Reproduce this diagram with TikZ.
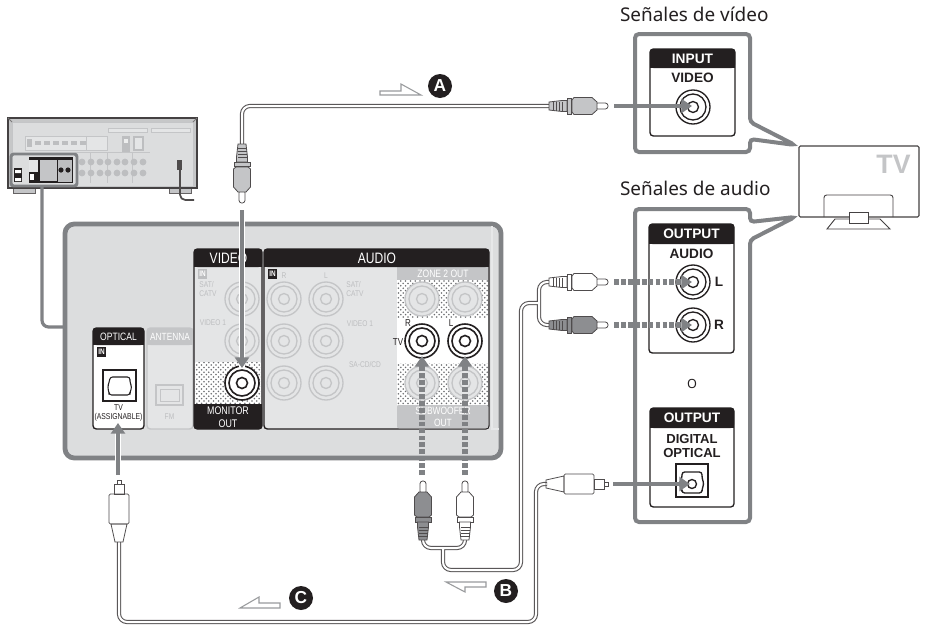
\documentclass[tikz,border=0pt]{standalone}
\usepackage{fontspec}
\setmainfont{Liberation Sans}
\newfontfamily\narrowf[FakeStretch=0.8]{Liberation Sans}
\newfontfamily\titlef{Noto Sans}
\usetikzlibrary{arrows.meta,patterns}
\pgfdeclarepatternformonly{ditherdots}{\pgfqpoint{-0.9pt}{-0.9pt}}{\pgfqpoint{2.7pt}{2.7pt}}{\pgfqpoint{3.6pt}{3.6pt}}{%
  \pgfpathcircle{\pgfqpoint{0pt}{0pt}}{0.65pt}%
  \pgfpathcircle{\pgfqpoint{1.8pt}{1.8pt}}{0.65pt}%
  \pgfusepath{fill}}
\definecolor{ink}{HTML}{231F20}
\definecolor{midgray}{HTML}{808285}
\definecolor{panelbg}{HTML}{DCDDDE}
\definecolor{boxbg}{HTML}{E4E5E6}
\definecolor{faded}{HTML}{C4C5C7}
\definecolor{dimtext}{HTML}{BDBEC0}
\tikzset{
  x=0.75pt,y=-0.75pt,
  lbl/.style={inner sep=0pt,outer sep=0pt,align=center},
  hdr/.style={lbl,text=white,font=\narrowf\fontsize{11.3}{12}\selectfont},
  shdr/.style={lbl,text=white,font=\narrowf\fontsize{8}{9}\selectfont},
  tiny/.style={lbl,text=ink,font=\narrowf\fontsize{7.5}{8.2}\selectfont},
  dim/.style={lbl,text=dimtext,font=\narrowf\fontsize{6.2}{7.4}\selectfont},
  boldlbl/.style={lbl,text=ink,font=\bfseries\fontsize{10.2}{10.2}\selectfont},
  boldhdr/.style={lbl,text=white,font=\bfseries\fontsize{10.3}{11}\selectfont},
  title/.style={lbl,anchor=west,text=ink,font=\titlef\fontsize{14.2}{15}\selectfont},
  badge/.style={circle,fill=ink,text=white,minimum size=18pt,inner sep=0pt,font=\bfseries\fontsize{13}{13}\selectfont},
  blackbox/.style={draw=ink,line width=1pt,rounded corners=2.5pt},
  callout/.style={draw=midgray,line width=3pt,rounded corners=3pt,fill=white,line join=miter},
  cable/.style={draw=ink!75,line width=0.8pt,double=white,double distance=1.5pt,rounded corners=6pt},
  sig/.style={draw=midgray,line width=3.4pt,-{Triangle[length=8pt,width=10.5pt]}},
  halo/.style={preaction={draw=white,line width=3.9pt,-}},
  sigdash/.style={sig,line width=3.8pt,dash pattern=on 3.6pt off 1.6pt},
  hollow/.style={draw=midgray!80,line width=0.8pt,fill=white},
  dither/.style={pattern=ditherdots,pattern color=midgray!85!black},
}
\newcommand{\jackdraw}[5]{% x y colour width fill
  \draw[draw=#3,line width=#4,fill=#5] (#1,#2) circle[radius=17];
  \draw[draw=#3,line width=#4] (#1,#2) circle[radius=13];
  \draw[draw=#3,line width=#4] (#1,#2) circle[radius=5.5];
}
\newcommand{\rcaplug}[4]{% x y rotation fill
  \begin{scope}[shift={(#1,#2)},rotate=#3,draw=ink!80,line width=0.6pt]
    \draw[fill=white,rounded corners=2pt] (-13,-3) rectangle (0,3);
    \draw[fill=#4] (-36,-6) -- (-34,-8.5) -- (-16,-8.5) -- (-11,-4) -- (-11,4) -- (-16,8.5) -- (-34,8.5) -- (-36,6) -- cycle;
    \draw[fill=#4] (-41,-8) rectangle (-36.5,8);
    \draw[fill=#4] (-59,-4) -- (-46,-5.5) -- (-41,-5.5) -- (-41,5.5) -- (-46,5.5) -- (-59,4) -- cycle;
    \foreach \s in {-55,-52,-49,-46} \draw[line width=0.5pt] (\s,-4.5) -- (\s,4.5);
  \end{scope}
}
\newcommand{\optplug}[3]{% x y rotation
  \begin{scope}[shift={(#1,#2)},rotate=#3,draw=ink!80,line width=0.6pt,fill=white]
    \draw (-4,-2) rectangle (0,2);
    \draw (-14,-5) rectangle (-4,5);
    \draw (-62,-4) -- (-44,-8) -- (-44,8) -- (-62,4) -- cycle;
    \draw[rounded corners=1pt] (-44,-10) rectangle (-14,10);
  \end{scope}
}
\begin{document}
\begin{tikzpicture}
\useasboundingbox (0,0) rectangle (926,629);
\fill[white] (0,0) rectangle (926,629);

% ---------- small receiver ----------
\draw[fill=faded,draw=ink!70,line width=0.5pt] (13,186) rectangle (35,193);
\draw[fill=faded,draw=ink!70,line width=0.5pt] (169,186) rectangle (191,193);
\fill[panelbg!90!black] (8,118) rectangle (197,188);
\draw[faded,line width=0.6pt,fill=panelbg] (12,122) rectangle (193,186);
\draw[ink!85,line width=1.5pt] (8,188) -- (8,118) -- (197,118) -- (197,188) -- cycle;
\draw[ink!60,line width=0.6pt] (8,118) -- (12,122) (197,118) -- (193,122);
\draw[faded,fill=boxbg,line width=0.6pt] (25,136) rectangle (107,150);
\foreach \px in {38,47,56,65,74,83} \fill[dimtext] (\px-3,141) rectangle (\px+3,145);
\fill[dimtext] (27,139) rectangle (32,147);
\draw[faded,line width=0.6pt] (86,136) -- (86,150);
\draw[faded,fill=boxbg,line width=0.6pt] (108,128) rectangle (147,132);
\draw[faded,fill=boxbg,line width=0.6pt] (151,128) rectangle (190,132);
\fill[dimtext] (122,136) rectangle (130,152);
\fill[white!70!faded] (124,139) rectangle (128,143);
\draw[dimtext,fill=boxbg,line width=0.8pt] (134,137) rectangle (143,150);
\draw[faded,line width=0.6pt] (75,152) -- (150,152) (90,152) -- (90,183) (107,152) -- (107,183) (132,152) -- (132,183);
\foreach \px in {82,91,100,108,117,125,134,143}{
  \fill[dimtext] (\px,162) circle[radius=3.4];
  \fill[dimtext] (\px,173) circle[radius=3.4];
}
\fill[ink] (29,157) rectangle (73,183);
\fill[boxbg] (29,160) rectangle (38,172);
\fill[white] (30,174) rectangle (34,180);
\fill[faded] (40,160) rectangle (57,181);
\fill[dimtext] (58,160) rectangle (72,182);
\fill[ink] (61,170) circle[radius=2.6] (68,170) circle[radius=2.6];
\fill[ink] (14,168) rectangle (22,182);
\fill[white] (15,170) rectangle (21,173) (15,178) rectangle (21,181);
\draw[midgray,line width=2.2pt,rounded corners=2pt] (11,154) rectangle (77,186);
\fill[ink!80] (177,160) rectangle (182,170);
\draw[ink!80,line width=1.3pt,rounded corners=4pt] (180,168) -- (180,200) -- (194,200);

% ---------- connector from receiver to enlarged panel ----------
\coordinate (recv) at (42,186);
\coordinate (panelL) at (65,327);
\draw[midgray,line width=2.4pt,rounded corners=5pt] (recv) |- (panelL);

% ---------- panel ----------
\draw[midgray,line width=3.6pt,fill=panelbg,rounded corners=7pt] (65,224) rectangle (501,458);
\draw[white!60!faded,line width=0.8pt] (492,226) -- (492,429) -- (499,429);

% OPTICAL box
\draw[blackbox,fill=white] (93,328) rectangle (144,429);
\fill[ink,rounded corners=2.5pt] (93,328) rectangle (144,345);
\fill[ink] (93,338) rectangle (144,345);
\node[shdr] (optHead) at (118.5,336.5) {OPTICAL};
\fill[ink] (97,347) rectangle (106,357);
\node[lbl,text=white,font=\narrowf\bfseries\fontsize{6}{6}\selectfont] (inOpt) at (101.5,352) {IN};
\draw[ink,line width=1.3pt] (103,370) rectangle (136,401);
\draw[ink,line width=0.8pt,rounded corners=2pt] (110,377) -- (130,377) -- (130,383) -- (132,387) -- (130,392) -- (130,395) -- (109,395) -- (109,392) -- (107.5,387) -- (109,383) -- cycle;
\node[tiny,font=\narrowf\fontsize{6.4}{7.4}\selectfont] (optTV) at (118.5,413) {TV\\(ASSIGNABLE)};

% ANTENNA box
\draw[faded,line width=1pt,fill=boxbg,rounded corners=2.5pt] (147,328) rectangle (193,429);
\fill[faded,rounded corners=2.5pt] (147,328) rectangle (193,345);
\fill[faded] (147,338) rectangle (193,345);
\node[shdr,font=\narrowf\fontsize{7.8}{9}\selectfont] (antHead) at (170,336.5) {ANTENNA};
\draw[faded,line width=1.3pt] (156,385) rectangle (183,405);
\draw[faded,line width=0.6pt] (160,389) rectangle (179,401);
\node[dim] (fm) at (169.5,417) {FM};

% VIDEO box
\draw[blackbox,fill=boxbg] (194,249) rectangle (262,429);
\fill[white] (195,362) rectangle (261,404);
\fill[dither] (195,362) rectangle (261,404);
\fill[ink,rounded corners=2.5pt] (194,249) rectangle (262,267);
\fill[ink] (194,260) rectangle (262,267);
\fill[ink,rounded corners=2.5pt] (194,404) rectangle (262,429);
\fill[ink] (194,404) rectangle (262,414);
\node[hdr] (videoHead) at (228.5,258) {VIDEO};
\node[shdr,font=\narrowf\fontsize{8.3}{9.6}\selectfont] (monitor) at (228,417) {MONITOR\\OUT};
\fill[dimtext] (198,269) rectangle (207,279);
\node[lbl,text=white,font=\narrowf\bfseries\fontsize{6}{6}\selectfont] (inVideo) at (202.5,274) {IN};
\node[dim,align=left] (vSat) at (208,289) {SAT/\\CATV};
\node[dim] (vV1) at (213,323) {VIDEO 1};
\jackdraw{242}{299}{faded}{1pt}{boxbg}
\jackdraw{242}{341}{faded}{1pt}{boxbg}
\jackdraw{242}{383}{ink}{1.2pt}{white}

% AUDIO box
\draw[blackbox,fill=boxbg] (264,249) rectangle (489,429);
\fill[faded] (397,267) rectangle (488.3,280);
\fill[white] (397,280) rectangle (488.3,405);
\fill[dither] (397,280) rectangle (488.3,317);
\fill[dither] (397,363) rectangle (488.3,405);
\fill[faded,rounded corners=1.5pt] (397,405) rectangle (488.3,428.3);
\fill[ink,rounded corners=2.5pt] (264,249) rectangle (489,267);
\fill[ink] (264,260) rectangle (489,267);
\node[hdr] (audioHead) at (377,258) {AUDIO};
\node[lbl,text=white,font=\narrowf\fontsize{8}{8.5}\selectfont] (zone) at (443,274) {ZONE 2 OUT};
\node[lbl,text=white,font=\narrowf\fontsize{7.9}{9.2}\selectfont] (sub) at (443,417) {SUBWOOFER\\OUT};
\fill[ink] (268,269) rectangle (277,279);
\node[lbl,text=white,font=\narrowf\bfseries\fontsize{6}{6}\selectfont] (inAudio) at (272.5,274) {IN};
\node[dim] (aR) at (284,276) {R};
\node[dim] (aL) at (326,276) {L};
\node[dim,align=left] (aSat) at (355,289) {SAT/\\CATV};
\node[dim] (aV1) at (360,324) {VIDEO 1};
\node[dim] (aSa) at (365,365) {SA-CD/CD};
\foreach \jx in {284,326}\foreach \jy in {299,341,383}{\jackdraw{\jx}{\jy}{faded}{1pt}{boxbg}}
\foreach \jx in {422,465}\foreach \jy in {299,383}{\jackdraw{\jx}{\jy}{faded}{1pt}{boxbg}}
\jackdraw{422}{341}{ink}{1.2pt}{white}
\jackdraw{465}{341}{ink}{1.2pt}{white}
\node[tiny] (tvR) at (408,323) {R};
\node[tiny] (tvL) at (451,323) {L};
\node[tiny] (tvTV) at (398,342) {TV};

% ---------- TV ----------
\draw[ink!85,line width=0.8pt,rounded corners=1pt] (799,146) rectangle (919,217);
\node[lbl,text=faded,font=\bfseries\fontsize{20}{20}\selectfont] (tvMark) at (893.5,164) {TV};
\draw[ink!85,line width=0.7pt,rounded corners=2pt] (824,217) -- (824,195) -- (893,195) -- (893,217);
\draw[ink!85,line width=0.7pt,fill=white] (835,219) -- (880,219) -- (890,229) -- (827,229) -- cycle;
\draw[ink!85,line width=0.7pt,fill=white] (849,212) rectangle (868,223);

% ---------- callouts ----------
\draw[callout] (635,34) -- (750,34) -- (750,122) -- (795,145) -- (750,139) -- (750,152) -- (635,152) -- cycle;
\draw[callout] (635,209) -- (750,209) -- (750,222) -- (795,217) -- (750,240) -- (750,522) -- (635,522) -- cycle;
\node[title] (tVideo) at (620,14) {Señales de vídeo};
\node[title] (tAudio) at (620,188) {Señales de audio};

% INPUT VIDEO
\draw[blackbox,fill=white] (650,49) rectangle (735,136);
\fill[ink,rounded corners=2.5pt] (650,49) rectangle (735,68);
\fill[ink] (650,60) rectangle (735,68);
\node[boldhdr] (inputHead) at (692.5,58.5) {INPUT};
\node[boldlbl] (inputVideo) at (692.5,78) {VIDEO};
\jackdraw{693}{107}{ink}{1pt}{white}

% OUTPUT AUDIO
\draw[blackbox,fill=white] (649,224) rectangle (734,353);
\fill[ink,rounded corners=2.5pt] (649,224) rectangle (734,244);
\fill[ink] (649,235) rectangle (734,244);
\node[boldhdr] (outHead) at (691.5,234) {OUTPUT};
\node[boldlbl] (outAudio) at (691.5,254) {AUDIO};
\jackdraw{693}{282}{ink}{1pt}{white}
\jackdraw{693}{325}{ink}{1pt}{white}
\node[boldlbl] (jackL) at (719,282) {L};
\node[boldlbl] (jackR) at (719,325) {R};
\node[lbl,text=ink,font=\titlef\fontsize{9.5}{10}\selectfont] (orText) at (692,384) {O};

% OUTPUT DIGITAL OPTICAL
\draw[blackbox,fill=white] (650,408) rectangle (734,507);
\fill[ink,rounded corners=2.5pt] (650,408) rectangle (734,428);
\fill[ink] (650,419) rectangle (734,428);
\node[boldhdr] (outHead2) at (692,418) {OUTPUT};
\node[boldlbl,font=\bfseries\fontsize{9.8}{10.6}\selectfont] (outDig) at (692,446) {DIGITAL\\OPTICAL};
\draw[ink,line width=1pt] (676,464) rectangle (708,497);
\draw[ink,line width=1pt,fill=white,rounded corners=2pt] (682,472) -- (702,472) -- (702,478) -- (704,484) -- (702,489) -- (702,493) -- (682,493) -- (682,489) -- (679,484) -- (682,478) -- cycle;
\draw[ink,line width=1pt] (692,484) circle[radius=4.5];

% ---------- named ends ----------
\coordinate (aPlugV) at (242,145);
\coordinate (aPlugH) at (549,106);
\coordinate (bTop) at (539,303);
\coordinate (bL) at (549,282);
\coordinate (bR) at (549,325);
\coordinate (bLow) at (443,548);
\coordinate (bPlugL) at (423,538);
\coordinate (bPlugR) at (465,538);
\coordinate (cPlugH) at (547,484);
\coordinate (cPlugV) at (119,542);

% ---------- cables ----------
\draw[cable] (aPlugV) -- (242,106) -- (aPlugH);
\draw[cable] (bL) -- (539,282) -- (539,325) -- (bR)
  (bTop) -- (521,303) -- (521,570) -- (443,570) -- (bLow)
  (bPlugL) -- (423,548) -- (465,548) -- (bPlugR);
\draw[cable] (cPlugH) -- (536,484) -- (536,622) -- (119,622) -- (cPlugV);

% ---------- plugs ----------
\rcaplug{242}{203}{-90}{faded}
\rcaplug{608}{106}{0}{faded}
\rcaplug{608}{282}{0}{white}
\rcaplug{608}{325}{0}{midgray!90}
\rcaplug{423}{481}{90}{midgray!90}
\rcaplug{465}{481}{90}{white}
\optplug{608}{484}{0}
\optplug{119}{480}{90}

% ---------- signal arrows ----------
\coordinate (sA1) at (242,210);  \coordinate (sA2) at (242,368);
\coordinate (sV1) at (614,106);  \coordinate (sV2) at (692,106);
\coordinate (sL1) at (614,282);  \coordinate (sL2) at (692,282);
\coordinate (sR1) at (614,325);  \coordinate (sR2) at (692,325);
\coordinate (sD1) at (613,484);  \coordinate (sD2) at (690,484);
\coordinate (sO1) at (118,475);  \coordinate (sO2) at (118,423);
\coordinate (sP1) at (422,475);  \coordinate (sP2) at (422,356);
\coordinate (sQ1) at (465,475);  \coordinate (sQ2) at (465,356);
\draw[sig,halo] (sA1) -- (sA2);
\draw[sig] (sV1) -- (sV2);
\draw[sigdash] (sL1) -- (sL2);
\draw[sigdash] (sR1) -- (sR2);
\draw[sig] (sD1) -- (sD2);
\draw[sig,halo] (sO1) -- (sO2);
\draw[sigdash] (sP1) -- (sP2);
\draw[sigdash] (sQ1) -- (sQ2);

% ---------- hollow direction arrows and badges ----------
\draw[hollow] (380,91) -- (401,91) -- (401,84) -- (421,95) -- (380,95) -- cycle;
\draw[hollow] (446,582) -- (486,582) -- (486,587) -- (465,587) -- (465,592) -- cycle;
\draw[hollow] (240,608) -- (259,597) -- (259,603) -- (280,603) -- (280,608) -- cycle;
\node[badge] (badgeA) at (440,86) {A};
\node[badge] (badgeB) at (506,591) {B};
\node[badge] (badgeC) at (301,598) {C};
\end{tikzpicture}
\end{document}
